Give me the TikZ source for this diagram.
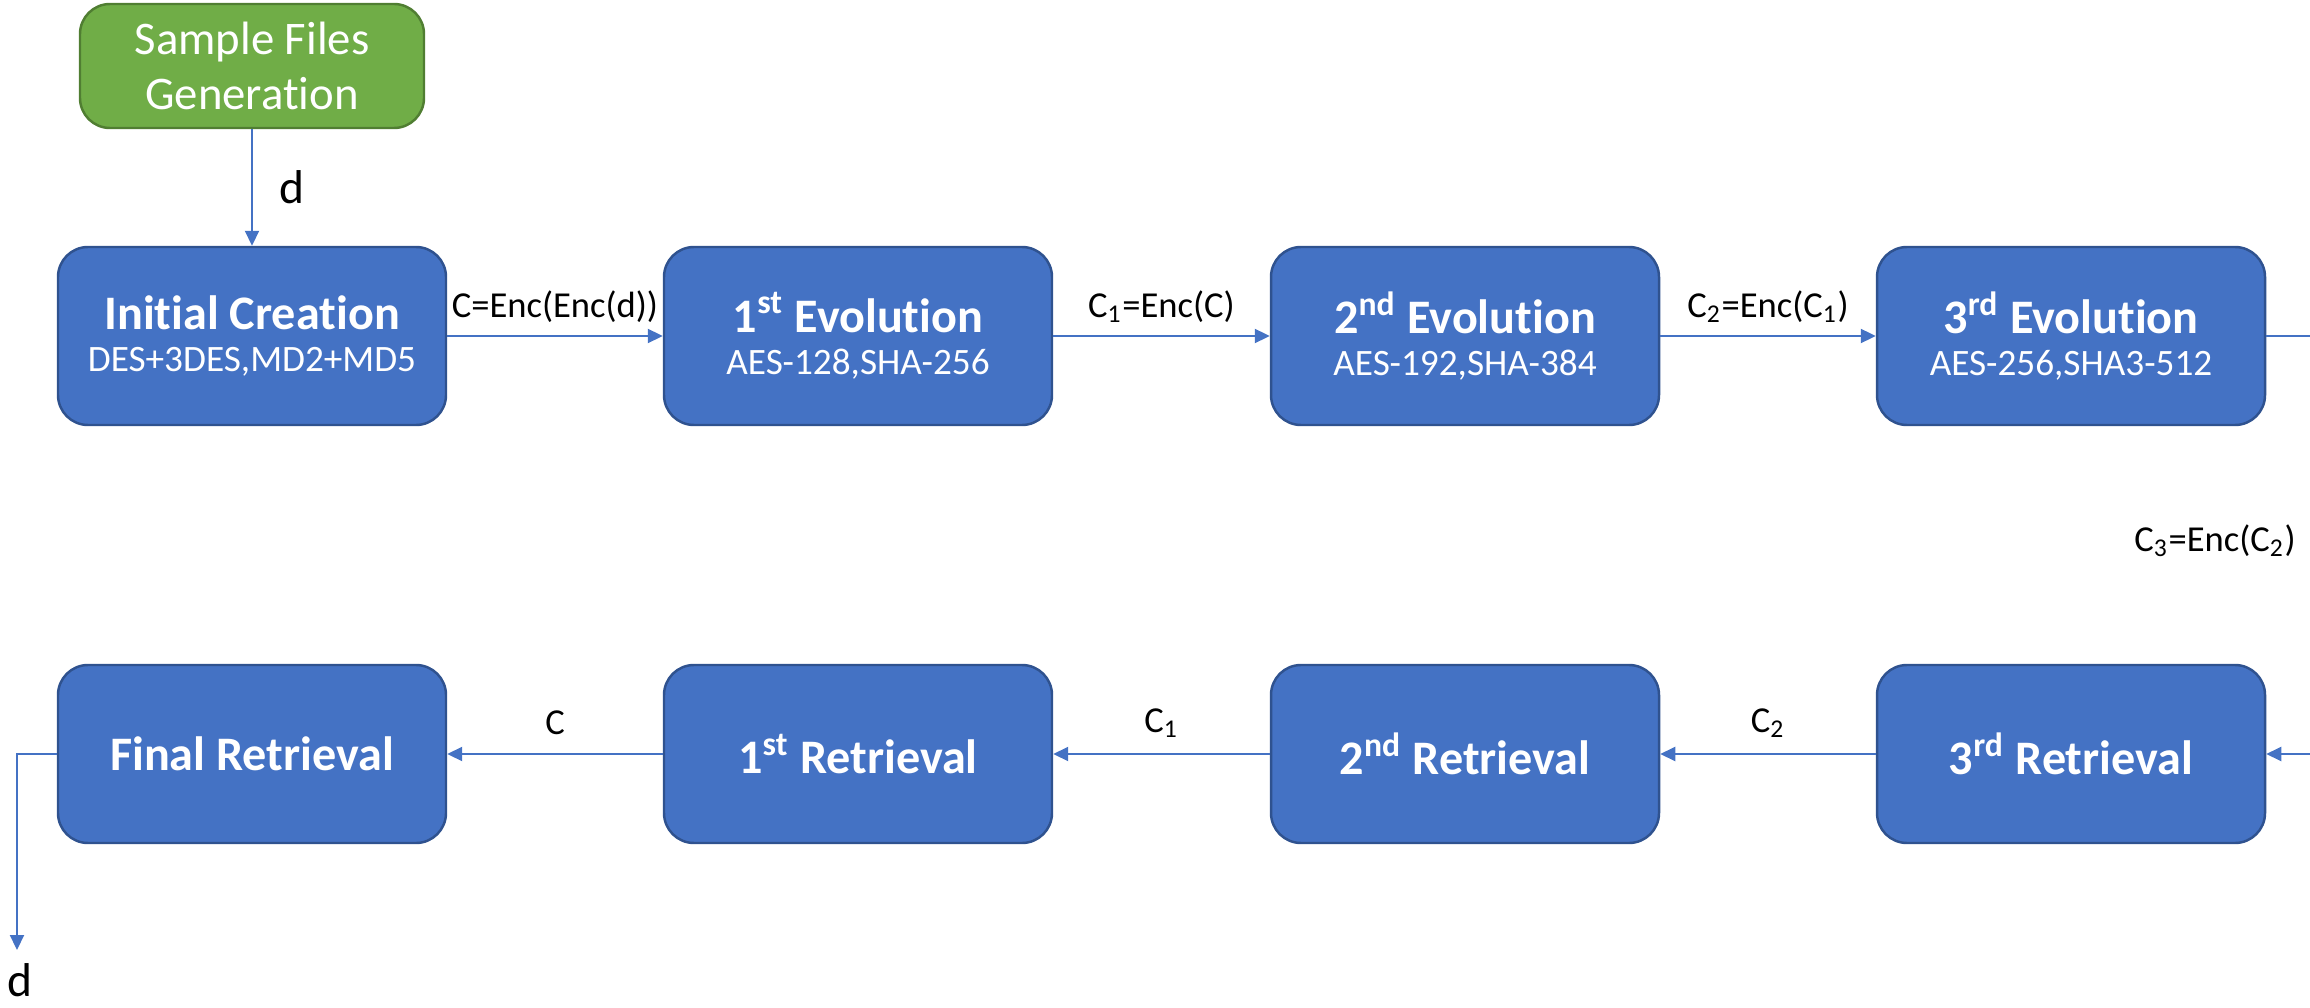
\documentclass[tikz,border=0pt]{standalone}
\usepackage{fontspec}
\setmainfont[Ligatures=NoCommon]{Carlito}
\usepackage{xcolor}
\usepackage{tikz}
\usetikzlibrary{arrows.meta}
\definecolor{boxblue}{HTML}{4472C4}
\definecolor{boxedge}{HTML}{2F528F}
\definecolor{boxgreen}{HTML}{70AD47}
\definecolor{greenedge}{HTML}{507E32}

\begin{document}
\begin{tikzpicture}[>={Triangle[length=1.5mm,width=1.4mm]}]
\tikzstyle{blk}=[draw=boxedge,line width=0.7pt,fill=boxblue,rounded corners=3mm,minimum width=3.88cm,minimum height=1.78cm,text=white,align=center,inner sep=0pt]
\tikzstyle{ttl}=[font=\fontsize{13.7}{15}\selectfont\bfseries]
\tikzstyle{lbl}=[font=\fontsize{10.4}{12}\selectfont,text=black,inner sep=1pt]
\tikzstyle{con}=[->,draw=boxblue,line width=0.6pt]
\useasboundingbox (0,0) rectangle (23.1,-10.08);
% source
\node[blk,fill=boxgreen,draw=greenedge,minimum width=3.44cm,minimum height=1.24cm,font=\fontsize{13.3}{15.5}\selectfont] (gen) at (2.52,-0.66) {Sample Files\\Generation};
% evolution row
\node[blk] (ic) at (2.52,-3.36) {{\fontsize{13.7}{15}\selectfont\bfseries Initial Creation}\\[0pt]{\fontsize{10.6}{12.5}\selectfont DES+3DES,MD2+MD5}};
\node[blk] (ev1) at (8.58,-3.36) {{\fontsize{13.7}{15}\selectfont\bfseries 1\textsuperscript{st} Evolution}\\[0pt]{\fontsize{10.6}{12.5}\selectfont AES-128,SHA-256}};
\node[blk] (ev2) at (14.65,-3.36) {{\fontsize{13.7}{15}\selectfont\bfseries 2\textsuperscript{nd} Evolution}\\[0pt]{\fontsize{10.6}{12.5}\selectfont AES-192,SHA-384}};
\node[blk] (ev3) at (20.71,-3.36) {{\fontsize{13.7}{15}\selectfont\bfseries 3\textsuperscript{rd} Evolution}\\[0pt]{\fontsize{10.6}{12.5}\selectfont AES-256,SHA3-512}};
% retrieval row
\node[blk,ttl] (fin) at (2.52,-7.54) {Final Retrieval};
\node[blk,ttl] (rt1) at (8.58,-7.54) {1\textsuperscript{st} Retrieval};
\node[blk,ttl] (rt2) at (14.65,-7.54) {2\textsuperscript{nd} Retrieval};
\node[blk,ttl] (rt3) at (20.71,-7.54) {3\textsuperscript{rd} Retrieval};
\coordinate (outr) at (23.1,-3.36);
\coordinate (inr) at (23.1,-7.54);
\coordinate (dend) at (0.17,-9.5);
\draw[con] (gen) -- node[right=1.5mm,font=\fontsize{13.5}{15}\selectfont,text=black] (dtop) {d} (ic);
\draw[con] (ic) -- node[lbl,above=0.9mm] (l0) {C=Enc(Enc(d))} (ev1);
\draw[con] (ev1) -- node[lbl,above=0.9mm] (l1) {C\textsubscript{1}=Enc(C)} (ev2);
\draw[con] (ev2) -- node[lbl,above=0.9mm] (l2) {C\textsubscript{2}=Enc(C\textsubscript{1})} (ev3);
\draw[draw=boxblue,line width=0.6pt] (ev3) -- (outr);
\node[lbl] (l3) at (22.15,-5.41) {C\textsubscript{3}=Enc(C\textsubscript{2})};
\draw[con] (inr) -- (rt3);
\draw[con] (rt3) -- node[lbl,above=1.2mm] (r2) {C\textsubscript{2}} (rt2);
\draw[con] (rt2) -- node[lbl,above=1.2mm] (r1) {C\textsubscript{1}} (rt1);
\draw[con] (rt1) -- node[lbl,above=1.5mm] (r0) {C} (fin);
\draw[con] (fin.west) -| (dend);
\node[font=\fontsize{13.5}{15}\selectfont,anchor=south,inner sep=0pt] (dbot) at (0.2,-9.98) {d};
\end{tikzpicture}
\end{document}
